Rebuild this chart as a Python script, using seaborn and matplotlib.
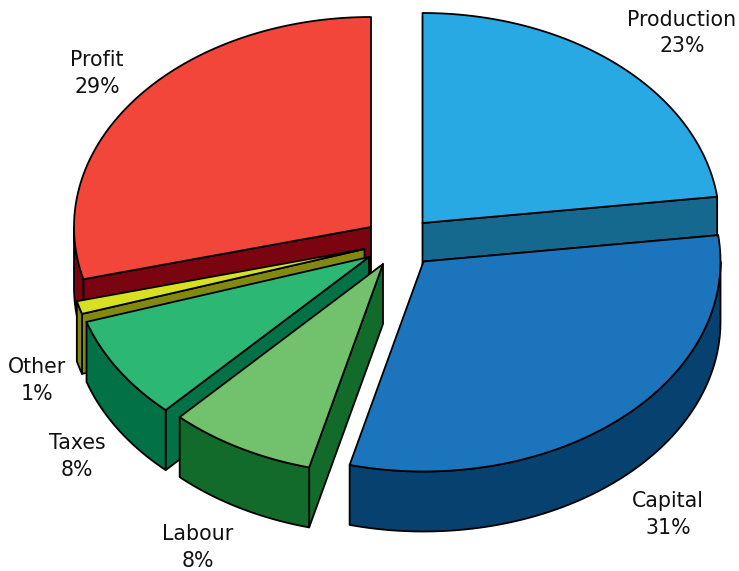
import numpy as np
import matplotlib
matplotlib.use("Agg")
import matplotlib.pyplot as plt
import seaborn as sns

categories = ["Production", "Capital", "Labour", "Taxes", "Other", "Profit"]
shares = [23, 31, 8, 8, 1, 29]

top_colors = ["#29A9E3", "#1C75BC", "#72C16C", "#2DB775", "#D7E021", "#F2463A"]
side_colors = ["#15688E", "#074170", "#126B2A", "#027145", "#83890E", "#7A0410"]

# Where each exploded slice has its apex, in figure pixels
apex_x = [422.5, 423.5, 383, 369, 364.5, 371]
apex_y = [223, 261.5, 264, 257, 249, 227]

# Painter's order: slices further back are drawn first
draw_order = ["Profit", "Production", "Other", "Taxes", "Labour", "Capital"]

label_x = [682, 668, 198, 77, 37, 97]
label_y = [33, 514.5, 547.5, 456.5, 380.5, 73.5]

RX, RY, DEPTH = 297, 210, 60
W, H = 739, 571

sns.set_theme(style="white")
plt.rcParams["font.family"] = ["DejaVu Sans"]

fig = plt.figure(figsize=(W / 100, H / 100), dpi=100)
ax = fig.add_axes([0, 0, 1, 1])
ax.set_xlim(0, W)
ax.set_ylim(H, 0)
ax.axis("off")

edges = np.deg2rad(np.cumsum([0] + shares) * 3.6)
EDGE = dict(edgecolor="black", linewidth=1.3, joinstyle="round")


def rim(cx, cy, a0, a1, drop=0):
    """Points along the ellipse, clockwise from twelve o'clock."""
    t = np.linspace(a0, a1, 80)
    return cx + RX * np.sin(t), cy - RY * np.cos(t) + drop


def draw_slice(i):
    cx, cy = apex_x[i], apex_y[i]
    a0, a1 = edges[i], edges[i + 1]
    side = side_colors[i]

    # Cut faces that turn toward the viewer
    for a, faces_front in ((a0, np.sin(a0) > 0 or a0 > np.pi), (a1, a1 < np.pi)):
        if faces_front:
            px, py = cx + RX * np.sin(a), cy - RY * np.cos(a)
            ax.fill([cx, px, px, cx], [cy, py, py + DEPTH, cy + DEPTH],
                    facecolor=side, **EDGE)

    # Curved outer wall on the near half of the ellipse
    lo, hi = max(a0, np.pi / 2), min(a1, 3 * np.pi / 2)
    if lo < hi:
        x, y = rim(cx, cy, lo, hi)
        xb, yb = rim(cx, cy, lo, hi, DEPTH)
        ax.fill(np.r_[x, xb[::-1]], np.r_[y, yb[::-1]], facecolor=side, **EDGE)

    # Top face
    x, y = rim(cx, cy, a0, a1)
    ax.fill(np.r_[cx, x], np.r_[cy, y], facecolor=top_colors[i], **EDGE)


for name in draw_order:
    draw_slice(categories.index(name))

for name, share, lx, ly in zip(categories, shares, label_x, label_y):
    ax.text(lx, ly, f"{name}\n{share}%", ha="center", va="center",
            fontsize=14.8, color="#111111", linespacing=1.38)

fig.savefig("out.png", dpi=100, facecolor="white")
